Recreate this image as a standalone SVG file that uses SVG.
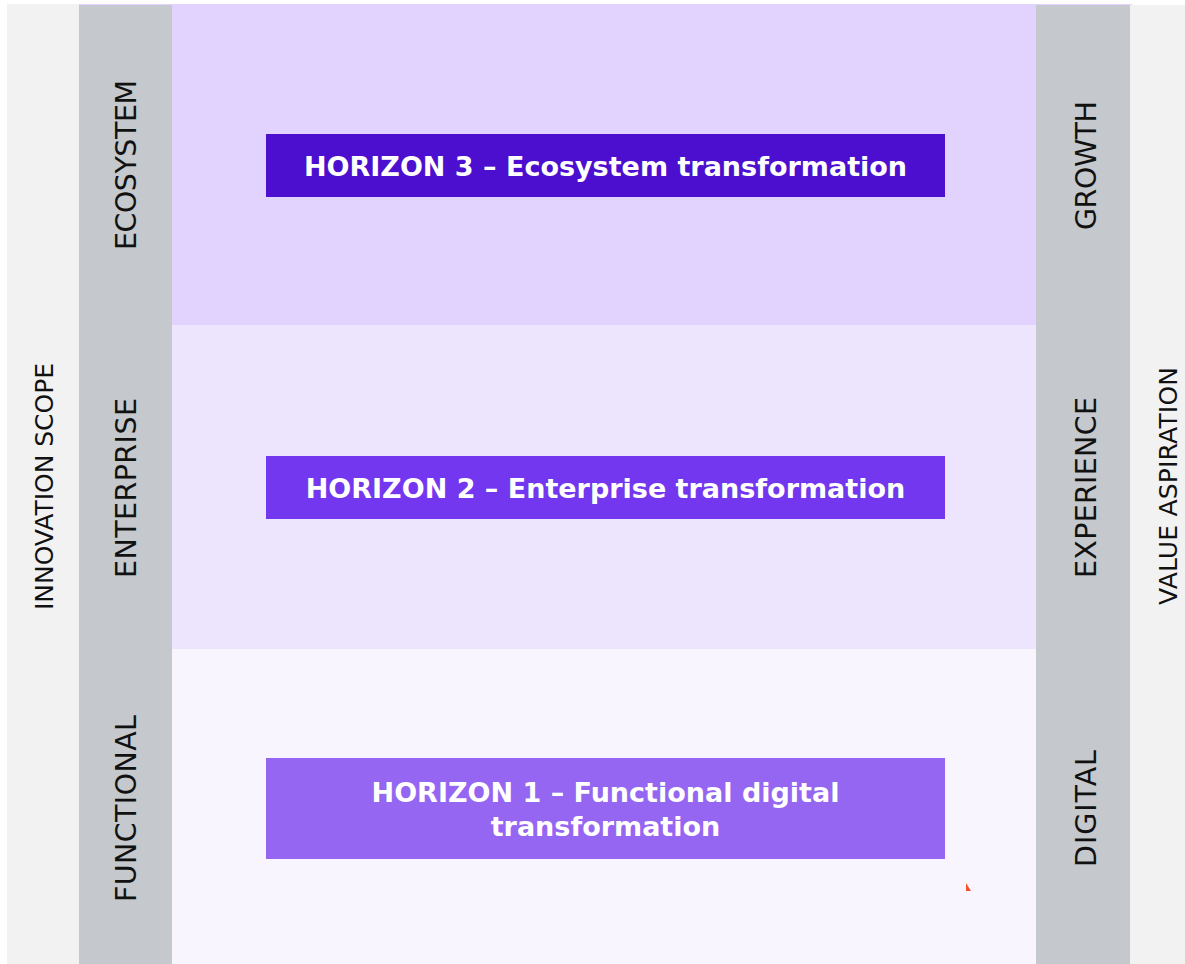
<svg xmlns="http://www.w3.org/2000/svg" width="1185" height="964" viewBox="0 0 1185 964">
<style>
.side{font-family:"DejaVu Sans","Liberation Sans",sans-serif;font-size:28.5px;fill:#111;text-anchor:middle}
.outer{font-family:"DejaVu Sans","Liberation Sans",sans-serif;font-size:25px;fill:#111;text-anchor:middle}
.title{font-family:"DejaVu Sans","Liberation Sans",sans-serif;font-weight:bold;font-size:27px;fill:#ffffff;text-anchor:middle}
</style>
<rect x="0" y="0" width="1185" height="964" fill="#ffffff"/>
<g id="outer-left"><rect x="7" y="4" width="72" height="960" fill="#f2f2f2"/><text class="outer" transform="translate(53,486.5) rotate(-90)" textLength="247" lengthAdjust="spacing">INNOVATION SCOPE</text></g>
<g id="outer-right"><rect x="1130" y="5" width="55" height="959" fill="#f2f2f2"/><text class="outer" transform="translate(1177,486) rotate(-90)" textLength="238" lengthAdjust="spacing">VALUE ASPIRATION</text></g>
<rect x="79" y="4" width="1053" height="1" fill="#e1d2fe"/>
<g id="band-3"><rect x="172" y="4" width="864" height="321" fill="#e1d2fe"/></g>
<g id="band-2"><rect x="172" y="325" width="864" height="324" fill="#ede5fd"/></g>
<g id="band-1"><rect x="172" y="649" width="864" height="315" fill="#f8f5fe"/></g>
<g id="col-left"><rect x="79" y="5" width="93" height="959" fill="#c5c8cc"/>
<text class="side" transform="translate(136,165) rotate(-90)" textLength="170" lengthAdjust="spacing">ECOSYSTEM</text>
<text class="side" transform="translate(136,488) rotate(-90)" textLength="180" lengthAdjust="spacing">ENTERPRISE</text>
<text class="side" transform="translate(136,808.5) rotate(-90)" textLength="187" lengthAdjust="spacing">FUNCTIONAL</text></g>
<g id="col-right"><rect x="1036" y="5" width="94" height="959" fill="#c5c8cc"/>
<text class="side" transform="translate(1096,165.5) rotate(-90)" textLength="129" lengthAdjust="spacing">GROWTH</text>
<text class="side" transform="translate(1096,487.5) rotate(-90)" textLength="181" lengthAdjust="spacing">EXPERIENCE</text>
<text class="side" transform="translate(1096,808.5) rotate(-90)" textLength="117" lengthAdjust="spacing">DIGITAL</text></g>
<g id="horizon-3"><rect x="266" y="134" width="679" height="63" fill="#4c0fd0"/><text class="title" x="605.5" y="175.5">HORIZON 3 – Ecosystem transformation</text></g>
<g id="horizon-2"><rect x="266" y="456" width="679" height="63" fill="#7437f0"/><text class="title" x="605.5" y="497.5">HORIZON 2 – Enterprise transformation</text></g>
<g id="horizon-1"><rect x="266" y="758" width="679" height="101" fill="#9566f2"/><text class="title" x="605.5" y="802">HORIZON 1 – Functional digital</text><text class="title" x="605.5" y="836">transformation</text></g>
<g id="connectors"></g>
<polygon points="966,883 966,891 971,891" fill="#f4512c"/>
</svg>
